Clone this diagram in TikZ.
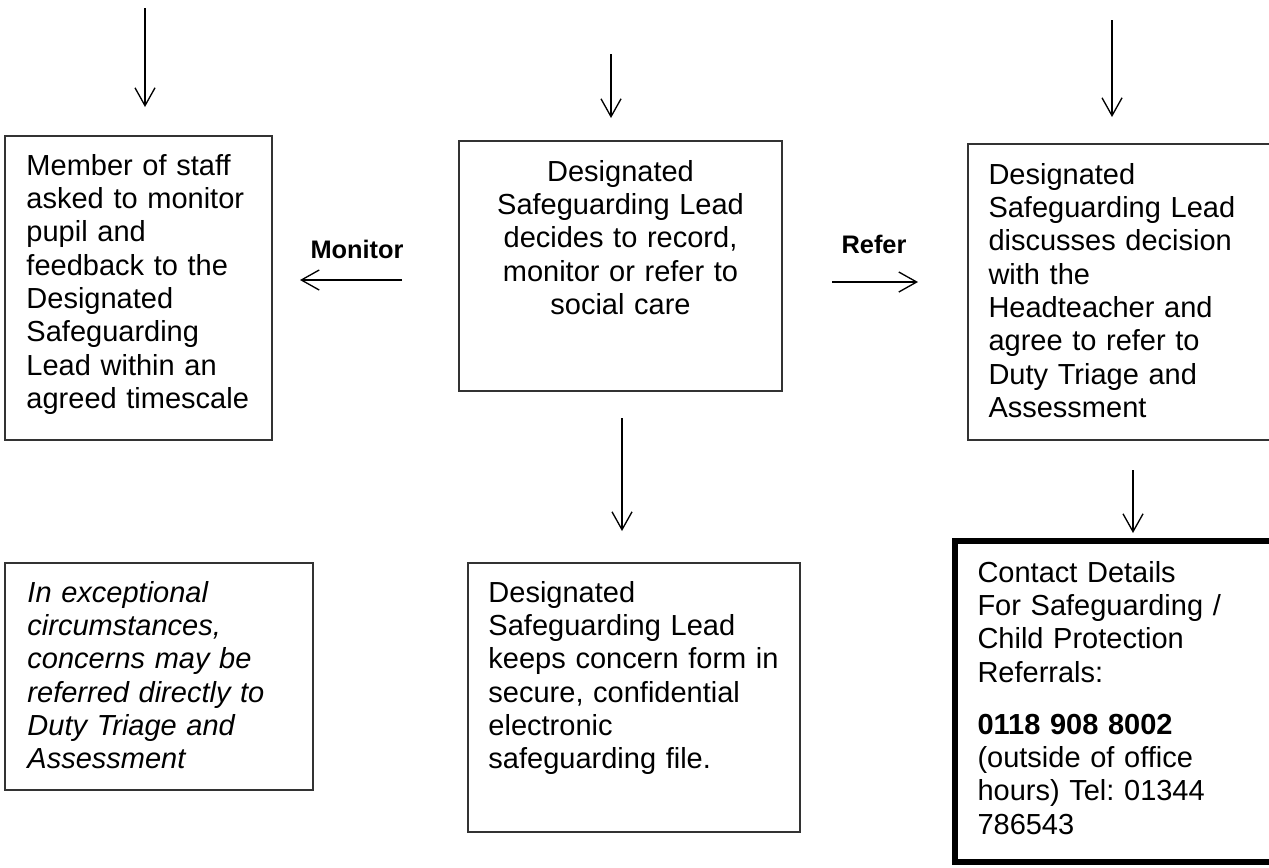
\documentclass[tikz,border=0pt]{standalone}
\usepackage{fontspec}
\setmainfont{Liberation Sans}
\usetikzlibrary{arrows.meta}
\colorlet{boxgrey}{black!80}
\frenchspacing

\begin{document}
\begin{tikzpicture}[x=0.4138pt,y=-0.4138pt,
    boxline/.style={draw=boxgrey, line width=0.5pt},
    thickline/.style={draw=black, line width=2.5pt},
    flowarrow/.style={-{Straight Barb[length=7.4pt,width=8.3pt]}, line width=0.55pt},
    boxtext/.style={anchor=base west, inner sep=0pt, text width=150pt, align=left, font=\fontsize{12}{13.8}\selectfont},
    steplabel/.style={anchor=base, inner sep=0pt, font=\fontsize{10.5}{12}\selectfont\bfseries}]
        \useasboundingbox (0,0) rectangle (1269,867);
        % boxes
        \foreach \xa/\ya/\xb/\yb in {5/136/272/440, 459/141/782/391, 968/144/1300/440, 5/563/313/790, 468/563/800/832}{
            \draw[boxline] (\xa,\ya) rectangle (\xb,\yb);
        }
        \draw[thickline] (955,541) rectangle (1300,862);
        % box texts
        \node[boxtext] (staff) at (26,175) {Member of staff\\asked to monitor\\pupil and\\feedback to the\\Designated\\Safeguarding\\Lead within an\\agreed timescale};
        \node[boxtext, anchor=base, align=center] (decide) at (620.5,181) {Designated\\Safeguarding Lead\\decides to record,\\monitor or refer to\\social care};
        \node[boxtext] (discuss) at (988,184) {Designated\\Safeguarding Lead\\discusses decision\\with the\\Headteacher and\\agree to refer to\\Duty Triage and\\Assessment};
        \node[boxtext, font={\fontsize{12}{13.8}\selectfont\itshape}] (exception) at (27,602) {In exceptional\\circumstances,\\concerns may be\\referred directly to\\Duty Triage and\\Assessment};
        \node[boxtext] (keeps) at (488,602) {Designated\\Safeguarding Lead\\keeps concern form in\\secure, confidential\\electronic\\safeguarding file.};
        \node[boxtext] (contact) at (977,582) {Contact Details\\For Safeguarding /\\Child Protection\\Referrals:\\[7.7pt]\textbf{0118 908 8002}\\(outside of office\\hours) Tel: 01344\\786543};
        % arrows
        \foreach \n/\x/\y in {staffin/145/8, staffout/145/107, decidein/611/54, decideout/611/118,
                discussin/1112/20, discussout/1112/117, keepsin/622/418, keepsout/622/531,
                contactin/1133/470, contactout/1133/533, monitorin/402/280, monitorout/300/280,
                referin/832/282, referout/918/282}{
            \coordinate (\n) at (\x,\y);
        }
        \foreach \a/\b in {staffin/staffout, decidein/decideout, discussin/discussout, keepsin/keepsout,
                contactin/contactout, monitorin/monitorout, referin/referout}{
            \draw[flowarrow] (\a) -- (\b);
        }
        \node[steplabel] (monitorlbl) at (357,258) {Monitor};
        \node[steplabel] (referlbl) at (874,253) {Refer};
    \end{tikzpicture}
\end{document}
